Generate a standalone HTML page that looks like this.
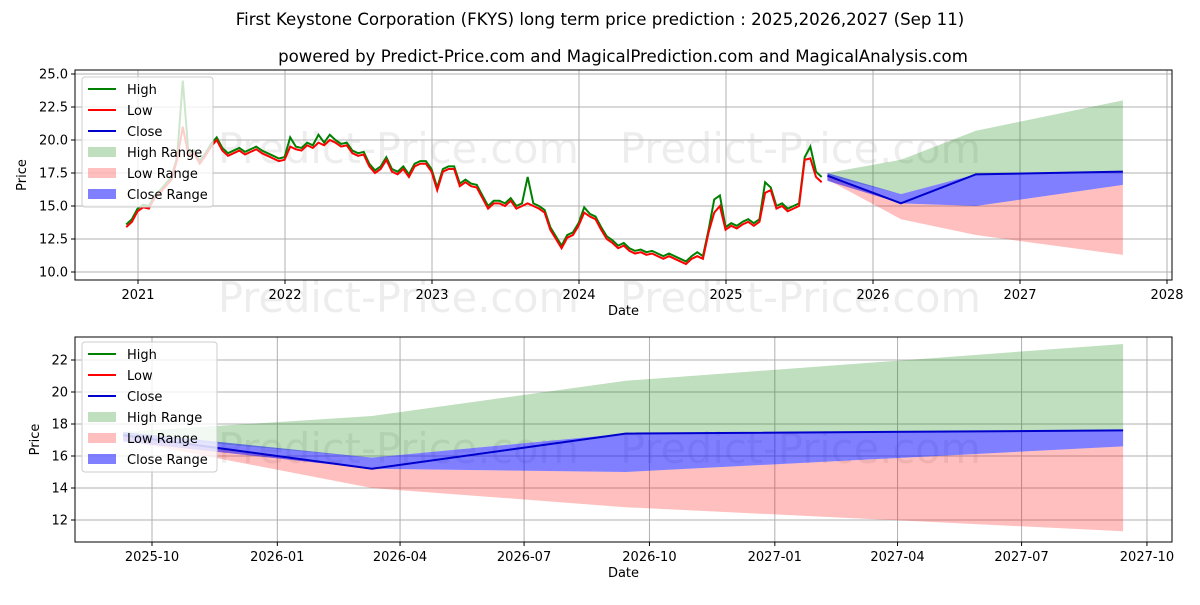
<!DOCTYPE html>
<html><head><meta charset="utf-8"><style>
body{margin:0;background:#fff}
svg text{font-family:"DejaVu Sans","Liberation Sans",sans-serif;fill:#000}
</style></head><body>
<svg id="c" width="1200" height="600" xmlns="http://www.w3.org/2000/svg">
<text x="600" y="25" font-size="16.6" text-anchor="middle">First Keystone Corporation (FKYS) long term price prediction : 2025,2026,2027 (Sep 11)</text>
<text x="623" y="62" font-size="16.6" text-anchor="middle">powered by Predict-Price.com and MagicalPrediction.com and MagicalAnalysis.com</text>
</svg>
<script>
const histStart = 2020.92;
const histStep = 1/26;
const histLow = [13.4,13.8,14.6,14.9,14.8,15.6,16.0,16.5,17.0,18.5,21.0,18.8,19.0,
18.2,18.8,19.5,20.0,19.2,18.8,19.0,19.2,18.9,19.1,19.3,19.0,18.8,
18.6,18.4,18.5,19.5,19.3,19.2,19.6,19.4,19.8,19.6,20.0,19.8,19.5,
19.6,19.0,18.8,18.9,18.0,17.5,17.8,18.5,17.6,17.4,17.8,17.2,18.0,
18.2,18.2,17.6,16.2,17.6,17.8,17.8,16.5,16.8,16.5,16.4,15.6,14.8,
15.2,15.2,15.0,15.4,14.8,15.0,15.2,15.0,14.8,14.5,13.2,12.5,11.8,
12.6,12.8,13.5,14.5,14.2,14.0,13.2,12.5,12.2,11.8,12.0,11.6,11.4,
11.5,11.3,11.4,11.2,11.0,11.2,11.0,10.8,10.6,11.0,11.2,11.0,13.0,
14.5,15.0,13.2,13.5,13.3,13.6,13.8,13.5,13.8,16.0,16.2,14.8,15.0,
14.6,14.8,15.0,18.5,18.6,17.2,16.8];
const histHigh = [13.6,14.0,14.8,15.1,15.0,15.8,16.2,16.7,17.2,18.7,24.5,19.0,19.2,
18.4,19.0,19.7,20.2,19.4,19.0,19.2,19.4,19.1,19.3,19.5,19.2,19.0,
18.8,18.6,18.7,20.2,19.5,19.4,19.8,19.6,20.4,19.8,20.4,20.0,19.7,
19.8,19.2,19.0,19.1,18.2,17.7,18.0,18.7,17.8,17.6,18.0,17.4,18.2,
18.4,18.4,17.8,16.4,17.8,18.0,18.0,16.7,17.0,16.7,16.6,15.8,15.0,
15.4,15.4,15.2,15.6,15.0,15.2,17.2,15.2,15.0,14.7,13.4,12.7,12.0,
12.8,13.0,13.7,14.9,14.4,14.2,13.4,12.7,12.4,12.0,12.2,11.8,11.6,
11.7,11.5,11.6,11.4,11.2,11.4,11.2,11.0,10.8,11.2,11.5,11.2,13.2,
15.5,15.8,13.4,13.7,13.5,13.8,14.0,13.7,14.0,16.8,16.4,15.0,15.2,
14.8,15.0,15.2,18.7,19.5,17.6,17.2];
const fcDates = [2025.69, 2026.19, 2026.70, 2027.70];
const fcClose = [17.3, 15.2, 17.4, 17.6];
const highLower = [17.3, 15.9, 17.4, 17.6];
const highUpper = [17.5, 18.5, 20.7, 23.0];
const lowLower = [17.0, 14.0, 12.8, 11.3];
const lowUpper = [17.3, 15.2, 15.0, 16.6];
const closeLower = [16.9, 15.2, 15.0, 16.6];
const closeUpper = [17.5, 15.9, 17.4, 17.6];
const topYTicks = [10.0, 12.5, 15.0, 17.5, 20.0, 22.5, 25.0];
const topXTicks = [2021, 2022, 2023, 2024, 2025, 2026, 2027, 2028];
const botYTicks = [12, 14, 16, 18, 20, 22];
const botXTickLabels = ["2025-10","2026-01","2026-04","2026-07","2026-10","2027-01","2027-04","2027-07","2027-10"];
const botXTickDates = [2025.748, 2025.9999, 2026.2466, 2026.4959, 2026.7479, 2026.9999, 2027.2466, 2027.4959, 2027.7479];

const svg = document.getElementById('c');
const NS = 'http://www.w3.org/2000/svg';
function mk(tag, attrs, parent){const e=document.createElementNS(NS,tag);for(const k in attrs)e.setAttribute(k,attrs[k]);(parent||svg).appendChild(e);return e;}

function drawPanel(p){
  const g = mk('g',{});
  
  
  const X = p.X, Y = p.Y;
  p.marks.forEach(m=>{const t=mk('text',{x:m[0],y:m[1],'font-size':41.5,fill:'#000','fill-opacity':0.07},g);t.textContent='Predict-Price.com';
    
    });
  p.yTicks.forEach(v=>{const y=Y(v);mk('line',{x1:p.x0,x2:p.x1,y1:y,y2:y,stroke:'#b0b0b0','stroke-width':1},g);
    mk('line',{x1:p.x0-4,x2:p.x0,y1:y,y2:y,stroke:'#000'},g);
    const t=mk('text',{x:p.x0-7,y:y+4.5,'font-size':13,'text-anchor':'end'},g);t.textContent=p.yFmt(v);
    
    });
  p.xTicks.forEach((d,i)=>{const x=X(d);mk('line',{x1:x,x2:x,y1:p.y0,y2:p.y1,stroke:'#b0b0b0','stroke-width':1},g);
    mk('line',{x1:x,x2:x,y1:p.y1,y2:p.y1+4,stroke:'#000'},g);
    const t=mk('text',{x:x,y:p.y1+19,'font-size':13,'text-anchor':'middle'},g);t.textContent=p.xLabels[i];
    
    });
  const cid='clip'+p.name;
  const cp=mk('clipPath',{id:cid},g);mk('rect',{x:p.x0,y:p.y0,width:p.x1-p.x0,height:p.y1-p.y0},cp);
  const pg=mk('g',{'clip-path':'url(#'+cid+')'},g);
  function band(lo,hi,col,op,name){
    let d='';fcDates.forEach((t,i)=>{d+=(i?'L':'M')+X(t)+','+Y(hi[i]);});
    for(let i=fcDates.length-1;i>=0;i--)d+='L'+X(fcDates[i])+','+Y(lo[i]);
    const e=mk('path',{d:d+'Z',fill:col,'fill-opacity':op},pg);
    
    
  }
  band(highLower,highUpper,'#008000',0.25,'high-range-band');
  band(lowLower,lowUpper,'#ff0000',0.25,'low-range-band');
  band(closeLower,closeUpper,'#0000ff',0.5,'close-range-band');
  if(p.hist){
    let dh='',dl='';
    histHigh.forEach((v,i)=>{dh+=(i?'L':'M')+X(histStart+i*histStep)+','+Y(v);});
    histLow.forEach((v,i)=>{dl+=(i?'L':'M')+X(histStart+i*histStep)+','+Y(v);});
    const h=mk('path',{d:dh,fill:'none',stroke:'#008000','stroke-width':2},pg);
    
    
    const l=mk('path',{d:dl,fill:'none',stroke:'#ff0000','stroke-width':2},pg);
    
    
  }
  let dc='';fcClose.forEach((v,i)=>{dc+=(i?'L':'M')+X(fcDates[i])+','+Y(v);});
  const c=mk('path',{d:dc,fill:'none',stroke:'#0000cc','stroke-width':2},pg);
  
  
  mk('rect',{x:p.x0,y:p.y0,width:p.x1-p.x0,height:p.y1-p.y0,fill:'none',stroke:'#000','stroke-width':1},g);
  const xt=mk('text',{x:(p.x0+p.x1)/2,y:p.y1+35,'font-size':13,'text-anchor':'middle'},g);xt.textContent='Date';
  
  
  const yt=mk('text',{x:0,y:0,'font-size':13,'text-anchor':'middle',transform:`translate(${p.ytx},${(p.y0+p.y1)/2}) rotate(-90)`},g);yt.textContent='Price';
  
  
  const lg=mk('g',{},g);
  
  
  mk('rect',{x:p.lx,y:p.ly,width:p.lw,height:130,rx:3,fill:'#fff','fill-opacity':0.8,stroke:'#ccc'},lg);
  const items=[['High','line','#008000',1],['Low','line','#ff0000',1],['Close','line','#0000cc',1],['High Range','box','#008000',0.25],['Low Range','box','#ff0000',0.25],['Close Range','box','#0000ff',0.5]];
  items.forEach((it,i)=>{const y=p.ly+12+i*21;
    const e=it[1]==='line'?mk('line',{x1:p.lx+6,x2:p.lx+34,y1:y,y2:y,stroke:it[2],'stroke-width':2},lg):mk('rect',{x:p.lx+6,y:y-5,width:28,height:10,fill:it[2],'fill-opacity':it[3]},lg);
    
    
    const t=mk('text',{x:p.lx+45,y:y+5,'font-size':13},lg);t.textContent=it[0];
    
    });
}
drawPanel({name:'top-panel',x0:75,x1:1172,y0:70,y1:280,X:t=>138+(t-2021)*147,Y:v=>272-(v-10)*13.2,
  yTicks:topYTicks,yFmt:v=>v.toFixed(1),xTicks:topXTicks,xLabels:topXTicks.map(String),hist:true,ytx:26,
  lx:82,ly:77,lw:131,marks:[[218,163],[620,163],[218,312],[620,312]]});
drawPanel({name:'bottom-panel',x0:75,x1:1172,y0:337,y1:542,X:t=>152+(t-2025.748)*497.5,Y:v=>520-(v-12)*16,
  yTicks:botYTicks,yFmt:v=>String(v),xTicks:botXTickDates,xLabels:botXTickLabels,hist:false,ytx:39,
  lx:82,ly:342,lw:135,marks:[[218,463],[620,463]]});
</script>
</body></html>
